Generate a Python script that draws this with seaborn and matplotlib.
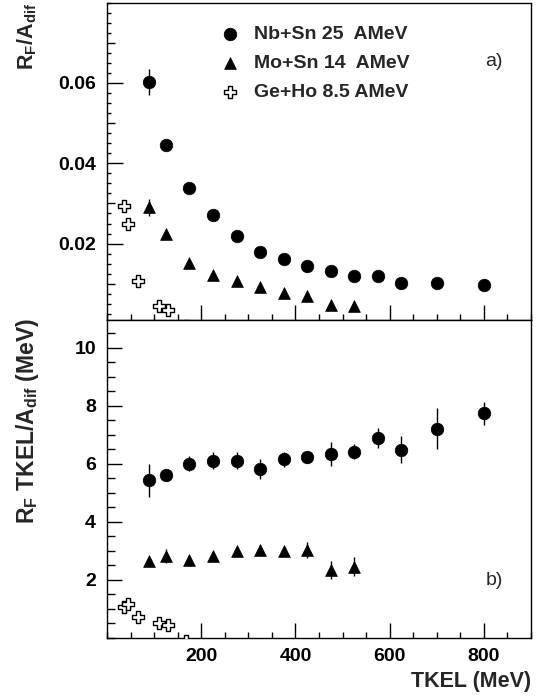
import numpy as np
import pandas as pd
import seaborn as sns
import matplotlib
matplotlib.use("Agg")
import matplotlib.pyplot as plt
from matplotlib.ticker import MultipleLocator, FixedLocator, NullFormatter

# ---------------- data ----------------
nb_x = [90, 125, 175, 225, 275, 325, 375, 425, 475, 525, 575, 625, 700, 800]
nb_ratio = [0.0602, 0.0446, 0.0339, 0.0271, 0.0219, 0.0178, 0.0162, 0.0144,
            0.0131, 0.0120, 0.0119, 0.0102, 0.0102, 0.0096]
nb_ratio_err = [0.0032, 0.0008, 0.0006, 0.0005, 0.0004, 0.0004, 0.0004, 0.0003,
                0.0003, 0.0003, 0.0003, 0.0003, 0.0003, 0.0003]
nb_tkel = [5.43, 5.61, 6.00, 6.11, 6.11, 5.83, 6.15, 6.23, 6.34, 6.41, 6.89, 6.49, 7.21, 7.74]
nb_tkel_err = [0.57, 0.15, 0.25, 0.30, 0.28, 0.35, 0.25, 0.20, 0.42, 0.26, 0.35, 0.47, 0.70, 0.39]

mo_x = [90, 125, 175, 225, 275, 325, 375, 425, 475, 525]
mo_ratio = [0.0291, 0.0224, 0.0152, 0.0121, 0.0106, 0.0091, 0.0076, 0.0070, 0.0047, 0.0046]
mo_ratio_err = [0.0021, 0.0011, 0.0006, 0.0005, 0.0004, 0.0003, 0.0003, 0.0003, 0.0003, 0.0003]
mo_tkel = [2.66, 2.82, 2.69, 2.81, 2.98, 3.03, 2.98, 3.03, 2.34, 2.46]
mo_tkel_err = [0.10, 0.23, 0.15, 0.15, 0.15, 0.18, 0.15, 0.26, 0.31, 0.33]

ge_x = [36, 44, 65, 110, 130, 167]
ge_ratio = [0.0293, 0.0248, 0.0108, 0.0045, 0.0034, -0.0006]
ge_tkel = [1.08, 1.16, 0.74, 0.53, 0.45, -0.10]

labels = ["Nb+Sn 25  AMeV", "Mo+Sn 14  AMeV", "Ge+Ho 8.5 AMeV"]
x_ticks = [200, 400, 600, 800]
top_yticks = [0.01, 0.02, 0.03, 0.04, 0.05, 0.06, 0.07]
bot_yticks = [2, 4, 6, 8, 10]

# ---------------- style ----------------
sns.set_style("ticks")
plt.rcParams["font.family"] = ["Liberation Sans", "DejaVu Sans"]
plt.rcParams["font.weight"] = "bold"
plt.rcParams["axes.linewidth"] = 1.0

TICK_FS = 14
DPI = 100
fig = plt.figure(figsize=(5.47, 7.0), dpi=DPI)
W, H = 547, 700
L, R = 107 / W, 531 / W
ax1 = fig.add_axes([L, 1 - 320 / H, R - L, (320 - 2.5) / H])
ax2 = fig.add_axes([L, 1 - 638 / H, R - L, (638 - 320) / H])

ms_circ, ms_tri, ms_cross = 82, 72, 80

def draw(ax, yn, en, ym, em, yg, with_label):
    ax.errorbar(nb_x, yn, yerr=en, fmt="none", ecolor="black", elinewidth=1.0, capsize=0, zorder=2)
    ax.errorbar(mo_x, ym, yerr=em, fmt="none", ecolor="black", elinewidth=1.0, capsize=0, zorder=2)
    sns.scatterplot(x=nb_x, y=yn, marker="o", s=ms_circ, color="black", edgecolor="black",
                    linewidth=0.5, ax=ax, label=labels[0] if with_label else None, zorder=3)
    sns.scatterplot(x=mo_x, y=ym, marker="^", s=ms_tri, color="black", edgecolor="black",
                    linewidth=0.5, ax=ax, label=labels[1] if with_label else None, zorder=3)
    sns.scatterplot(x=ge_x, y=yg, marker="P", s=ms_cross, color="white", edgecolor="black",
                    linewidth=1.0, ax=ax, label=labels[2] if with_label else None, zorder=3)

draw(ax1, nb_ratio, nb_ratio_err, mo_ratio, mo_ratio_err, ge_ratio, True)
draw(ax2, nb_tkel, nb_tkel_err, mo_tkel, mo_tkel_err, ge_tkel, False)

for ax in (ax1, ax2):
    ax.set_xlim(0, 900)
    ax.xaxis.set_major_locator(FixedLocator(x_ticks))
    ax.xaxis.set_minor_locator(MultipleLocator(50))
    ax.tick_params(axis="both", which="both", direction="in", top=False, right=False,
                   width=1.0, colors="black", labelsize=TICK_FS)
    ax.tick_params(axis="x", which="major", length=10.8, pad=7)
    ax.tick_params(axis="x", which="minor", length=4.3)
    for s in ax.spines.values():
        s.set_visible(True)
        s.set_color("black")
        s.set_linewidth(1.0)

# top panel axes
ax1.set_ylim(0.001, 0.08)
ax1.set_yticks(top_yticks)
ax1.set_yticklabels(["" if round(v / 0.01) % 2 else f"{v:.2f}" for v in top_yticks],
                    fontweight="bold", fontsize=TICK_FS)
ax1.yaxis.set_minor_locator(MultipleLocator(0.0025))
ax1.tick_params(axis="y", which="major", length=11.5, pad=8)
ax1.tick_params(axis="y", which="minor", length=2.7)
ax1.xaxis.set_major_formatter(NullFormatter())
for v, t in zip(top_yticks, ax1.yaxis.get_major_ticks()):
    if round(v / 0.01) % 2:
        t.tick1line.set_markersize(5.5)

# bottom panel axes
ax2.set_ylim(0, 10.95)
ax2.set_yticks(bot_yticks)
ax2.set_yticklabels([str(v) for v in bot_yticks], fontweight="bold", fontsize=TICK_FS)
ax2.yaxis.set_minor_locator(MultipleLocator(0.5))
ax2.tick_params(axis="y", which="major", length=10.8, pad=8)
ax2.tick_params(axis="y", which="minor", length=5.5)
ax2.set_xticklabels([str(v) for v in x_ticks], fontweight="bold", fontsize=TICK_FS)

# axis labels
ax1.set_ylabel("R$_\\mathregular{F}$/A$_\\mathregular{dif}$", fontsize=15.5, fontweight="bold",
               loc="top", va="center")
ax1.yaxis.set_label_coords(-0.188, 1.0)
ax2.set_ylabel("R$_\\mathregular{F}$ TKEL/A$_\\mathregular{dif}$ (MeV)", fontsize=16.5,
               fontweight="bold", loc="top", va="center")
ax2.yaxis.set_label_coords(-0.188, 1.005)
ax2.set_xlabel("TKEL (MeV)", fontsize=15.5, fontweight="bold", loc="right", va="center")
ax2.xaxis.set_label_coords(1.0, -0.137)

# panel tags
ax1.text(0.912, 0.8126, "a)", transform=ax1.transAxes, fontsize=14, fontweight="normal",
         ha="center", va="center")
ax2.text(0.914, 0.182, "b)", transform=ax2.transAxes, fontsize=14, fontweight="normal",
         ha="center", va="center")

# legend
leg = ax1.legend(loc="upper left", bbox_to_anchor=(0.267, 0.928), frameon=False,
                 fontsize=14, borderpad=0, borderaxespad=0, handlelength=1.0,
                 handletextpad=0.74, labelspacing=0.58, scatterpoints=1)
for txt in leg.get_texts():
    txt.set_fontweight("bold")

fig.savefig("out.png", dpi=DPI)
